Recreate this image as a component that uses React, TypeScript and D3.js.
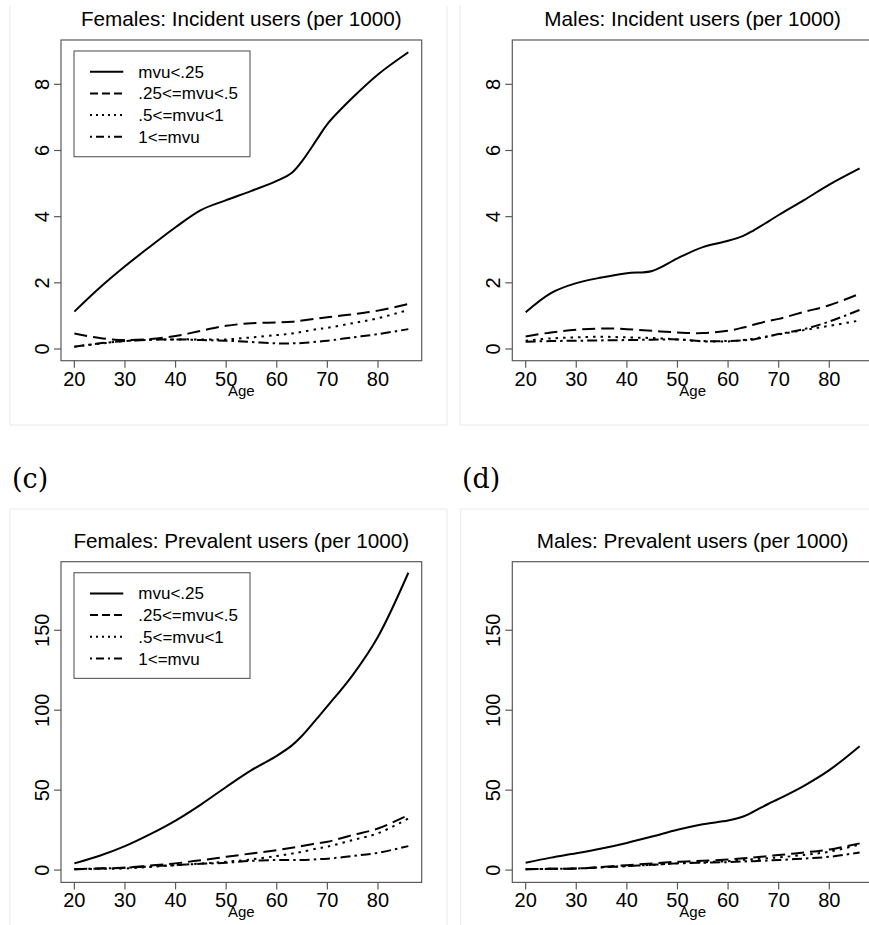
import * as d3 from 'd3';

const ages = [20, 25, 30, 35, 40, 45, 50, 55, 60, 63, 65, 68, 70, 75, 80, 86];
const xTicks = [20, 30, 40, 50, 60, 70, 80];
const incidentTicks = [0, 2, 4, 6, 8];
const prevalentTicks = [0, 50, 100, 150];
const groups = ['mvu<.25', '.25<=mvu<.5', '.5<=mvu<1', '1<=mvu'];

// Females: incident users (per 1000)
const femIncLow = [1.13, 1.85, 2.5, 3.1, 3.68, 4.2, 4.5, 4.78, 5.08, 5.33, 5.68, 6.35, 6.8, 7.6, 8.3, 8.97];
const femIncMid = [0.47, 0.33, 0.27, 0.3, 0.39, 0.55, 0.7, 0.78, 0.8, 0.82, 0.86, 0.92, 0.96, 1.05, 1.16, 1.36];
const femIncHigh = [0.07, 0.16, 0.24, 0.28, 0.29, 0.29, 0.29, 0.35, 0.42, 0.47, 0.52, 0.6, 0.64, 0.78, 0.93, 1.18];
const femIncTop = [0.07, 0.17, 0.24, 0.28, 0.29, 0.27, 0.25, 0.21, 0.17, 0.17, 0.18, 0.22, 0.25, 0.35, 0.45, 0.6];

// Males: incident users (per 1000)
const maleIncLow = [1.11, 1.69, 1.99, 2.16, 2.29, 2.36, 2.74, 3.08, 3.27, 3.42, 3.58, 3.86, 4.05, 4.5, 4.97, 5.46];
const maleIncMid = [0.38, 0.5, 0.58, 0.62, 0.6, 0.55, 0.5, 0.48, 0.55, 0.65, 0.73, 0.85, 0.91, 1.12, 1.32, 1.67];
const maleIncHigh = [0.25, 0.32, 0.35, 0.37, 0.35, 0.33, 0.29, 0.23, 0.23, 0.27, 0.31, 0.39, 0.44, 0.57, 0.7, 0.86];
const maleIncTop = [0.22, 0.24, 0.25, 0.26, 0.27, 0.28, 0.29, 0.24, 0.24, 0.26, 0.29, 0.38, 0.45, 0.6, 0.83, 1.18];

// Females: prevalent users (per 1000)
const femPrevLow = [4.2, 9, 15, 22.5, 31, 41, 52, 62.5, 71.5, 78, 84, 95, 102.5, 122, 146, 186];
const femPrevMid = [0.6, 1, 1.5, 2.8, 4.2, 6.2, 8.3, 10.4, 12.5, 14, 15, 16.8, 17.7, 21.9, 26, 34.4];
const femPrevHigh = [0.6, 0.8, 1, 2, 3.1, 4.1, 5.2, 6.7, 8.8, 10.3, 11.5, 13.5, 14.6, 18.8, 23, 32.3];
const femPrevTop = [0.6, 1, 1.5, 2.3, 3.1, 3.9, 4.6, 5.8, 6.3, 6.3, 6.3, 6.8, 7.1, 8.8, 10.8, 15];

// Males: prevalent users (per 1000)
const malePrevLow = [4.6, 7.8, 10.5, 13.5, 17, 21, 25.2, 28.7, 31, 33.5, 36.5, 41.5, 44.5, 52.7, 62.5, 77.5];
const malePrevMid = [0.6, 0.8, 1, 2, 3.1, 4.2, 5.2, 5.8, 6.7, 7.4, 7.9, 8.8, 9.4, 11, 12.9, 16.7];
const malePrevHigh = [0.6, 0.8, 1, 1.7, 2.5, 3.3, 4.2, 4.9, 5.6, 6.4, 6.8, 7.5, 7.9, 9.5, 11.5, 16];
const malePrevTop = [0.6, 0.8, 1, 1.7, 2.5, 3.3, 4.2, 4.6, 5, 5.4, 5.6, 6, 6.3, 7.2, 8.3, 11];

const dashes = ['none', '13,6', '2.5,5', '10,4,2.5,4'];
const legendDashes = ['none', '8,4', '2,4', '2,4,8,4'];
const font = 'Liberation Sans, Arial, Helvetica, sans-serif';

type PanelProps = {
  left: number;
  top: number;
  title: string;
  yDomain: [number, number];
  yTicks: number[];
  series: number[][];
  legend?: boolean;
};

const Panel = ({ left, top, title, yDomain, yTicks, series, legend }: PanelProps) => {
  const w = 360.7;
  const h = 320.7;
  const x = d3.scaleLinear().domain([17.36, 88.64]).range([left, left + w]);
  const y = d3.scaleLinear().domain(yDomain).range([top + h, top]);
  const line = d3
    .line<number>()
    .x((_, i) => x(ages[i]))
    .y((d) => y(d))
    .curve(d3.curveCatmullRom.alpha(0.5));

  return (
    <g fontFamily={font}>
      <text x={left + w / 2} y={top - 14} fontSize={20.7} textAnchor="middle">{title}</text>
      <rect x={left} y={top} width={w} height={h} fill="none" stroke="#5a5a5a" strokeWidth={1.2} />
      {xTicks.map((t) => (
        <g key={t}>
          <line x1={x(t)} x2={x(t)} y1={top + h} y2={top + h + 7} stroke="#5a5a5a" strokeWidth={1.2} />
          <text x={x(t)} y={top + h + 25} fontSize={20} textAnchor="middle">{t}</text>
        </g>
      ))}
      <text x={left + w / 2} y={top + h + 35} fontSize={15} textAnchor="middle">Age</text>
      {yTicks.map((t) => (
        <g key={t}>
          <line x1={left - 7} x2={left} y1={y(t)} y2={y(t)} stroke="#5a5a5a" strokeWidth={1.2} />
          <text transform={`translate(${left - 12},${y(t)}) rotate(-90)`} fontSize={20} textAnchor="middle">{t}</text>
        </g>
      ))}
      {series.map((s, i) => (
        <path key={i} d={line(s) ?? ''} fill="none" stroke="#000" strokeWidth={2} strokeDasharray={dashes[i]} />
      ))}
      {legend && (
        <g>
          <rect x={left + 13} y={top + 11} width={176} height={105.7} fill="#fff" stroke="#666" strokeWidth={1.2} />
          {groups.map((g, i) => (
            <g key={g}>
              <line x1={left + 29} x2={left + 62.3} y1={top + 31.7 + i * 21.7} y2={top + 31.7 + i * 21.7}
                stroke="#000" strokeWidth={2} strokeDasharray={legendDashes[i]} />
              <text x={left + 77.3} y={top + 37.7 + i * 21.7} fontSize={17}>{g}</text>
            </g>
          ))}
        </g>
      )}
    </g>
  );
};

const App = () => {
  const frame = '#e9e9e9';
  return (
    <svg width={869} height={925} style={{ position: 'absolute', left: 0, top: 0, background: '#fff' }}>
      {/* light borders around the four images */}
      <polyline points="10,6 10,425 447,425 447,6" fill="none" stroke={frame} />
      <polyline points="460,5 460,425 869,425" fill="none" stroke={frame} />
      <polyline points="10,925 10,509 447,509 447,925" fill="none" stroke={frame} />
      <polyline points="460.7,925 460.7,509 869,509" fill="none" stroke={frame} />

      <Panel left={61} top={40} title="Females: Incident users (per 1000)" yDomain={[-0.354, 9.34]}
        yTicks={incidentTicks} series={[femIncLow, femIncMid, femIncHigh, femIncTop]} legend />
      <Panel left={512.3} top={40} title="Males: Incident users (per 1000)" yDomain={[-0.354, 9.34]}
        yTicks={incidentTicks} series={[maleIncLow, maleIncMid, maleIncHigh, maleIncTop]} />

      <text x={12} y={488} fontSize={27} fontFamily="DejaVu Serif, serif">(c)</text>
      <text x={462} y={488} fontSize={27} fontFamily="DejaVu Serif, serif">(d)</text>

      <Panel left={61} top={561.7} title="Females: Prevalent users (per 1000)" yDomain={[-7.7, 192.9]}
        yTicks={prevalentTicks} series={[femPrevLow, femPrevMid, femPrevHigh, femPrevTop]} legend />
      <Panel left={512.3} top={561.7} title="Males: Prevalent users (per 1000)" yDomain={[-7.7, 192.9]}
        yTicks={prevalentTicks} series={[malePrevLow, malePrevMid, malePrevHigh, malePrevTop]} />
    </svg>
  );
};

export default App;
